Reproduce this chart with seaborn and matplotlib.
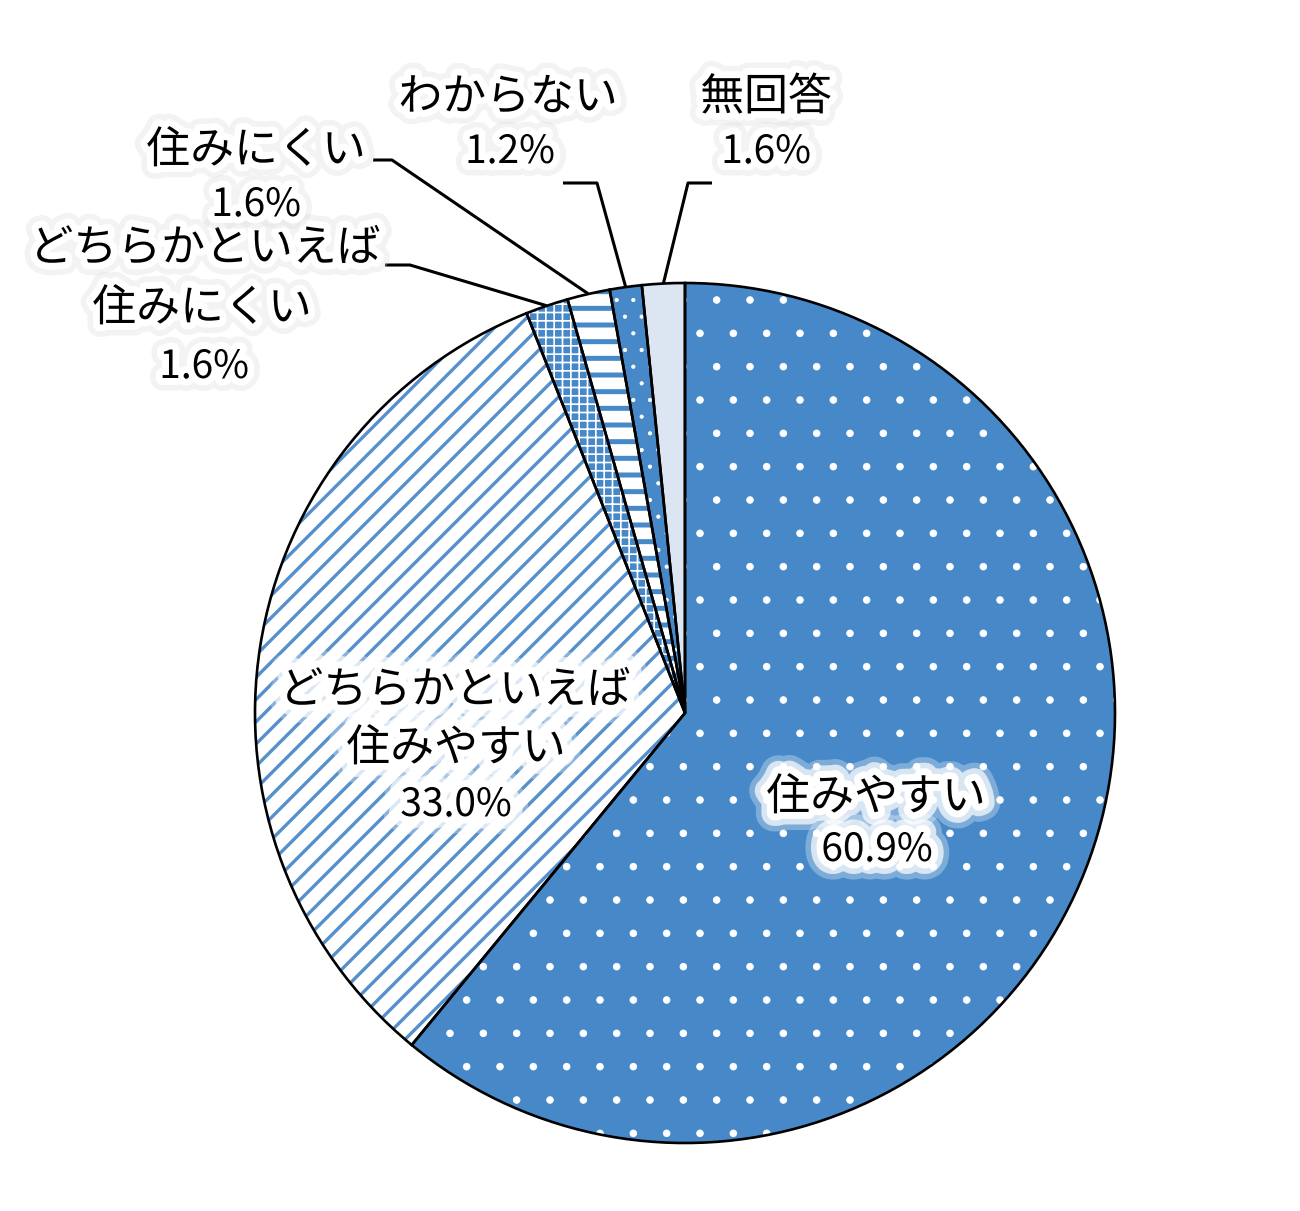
import numpy as np
import matplotlib
matplotlib.use("Agg")
import matplotlib.pyplot as plt
import matplotlib.patheffects as pe
import seaborn as sns

# data
names = ["住みやすい", "どちらかといえば\n住みやすい", "どちらかといえば\n住みにくい",
         "住みにくい", "わからない", "無回答"]
values = [60.9, 33.0, 1.6, 1.6, 1.2, 1.6]
pct_labels = [f"{v:.1f}%" for v in values]

BLUE = "#4789C8"
LIGHT = "#DCE6F2"
# face colour, hatch, hatch colour, hatch linewidth per slice
faces = [BLUE, "white", BLUE, "white", BLUE, LIGHT]
hatches = [".", "///", "++++", "--", "..", None]
hatch_colors = ["white", "#5590CC", "white", BLUE, "white", LIGHT]
hatch_lws = [0.3, 1.2, 0.6, 1.8, 0.3, 0.5]

sns.set_theme(style="white")
plt.rcParams["font.family"] = ["Noto Sans CJK JP", "DejaVu Sans"]
plt.rcParams["text.color"] = "black"

W, H = 1300, 1211
DPI = 200
fig = plt.figure(figsize=(W / DPI, H / DPI), dpi=DPI)
ax = fig.add_axes([0, 0, 1, 1])

cx, cy, R = 685, H - 713, 430

# first pass: fills and hatch (edge colour = hatch colour)
wedges, _ = ax.pie(values, startangle=90, counterclock=False, center=(cx, cy),
                   radius=R, colors=faces, wedgeprops=dict(linewidth=0))
for w, h, hc, hl in zip(wedges, hatches, hatch_colors, hatch_lws):
    w.set_edgecolor(hc)
    w.set_linewidth(0)
    if h:
        w.set_hatch(h)
    if hasattr(w, "set_hatch_linewidth"):
        w.set_hatch_linewidth(hl)

# second pass: black outlines
ax.pie(values, startangle=90, counterclock=False, center=(cx, cy), radius=R,
       colors=["none"] * len(values),
       wedgeprops=dict(edgecolor="black", linewidth=0.95, fill=False))

ax.set_xlim(0, W)
ax.set_ylim(0, H)
ax.set_aspect("equal")
ax.axis("off")

inner_fx = [pe.Stroke(linewidth=13, foreground="white", alpha=0.3),
            pe.Stroke(linewidth=9, foreground="white", alpha=0.7),
            pe.Stroke(linewidth=5, foreground="white"),
            pe.Normal()]
outer_fx = [pe.Stroke(linewidth=9, foreground="#d9d9d9", alpha=0.3),
            pe.Stroke(linewidth=5, foreground="white"),
            pe.Normal()]

JP = 15.8
PC = 14


def put(x, y, s, size, fx):
    ax.text(x, H - y, s, ha="center", va="center", fontsize=size,
            color="black", path_effects=fx, zorder=5)


# inside labels
put(876, 797, "住みやすい", JP, inner_fx)
put(877, 850, pct_labels[0], PC, inner_fx)
put(455, 690, "どちらかといえば", JP, inner_fx)
put(456, 748, "住みやすい", JP, inner_fx)
put(456, 805, pct_labels[1], PC, inner_fx)

# outside labels
put(205, 248, "どちらかといえば", JP, outer_fx)
put(202, 308, "住みにくい", JP, outer_fx)
put(204, 367, pct_labels[2], PC, outer_fx)
put(256, 150, "住みにくい", JP, outer_fx)
put(256, 205, pct_labels[3], PC, outer_fx)
put(508, 97, "わからない", JP, outer_fx)
put(510, 152, pct_labels[4], PC, outer_fx)
put(766, 97, "無回答", JP, outer_fx)
put(766, 152, pct_labels[5], PC, outer_fx)

# leader lines: outer end, elbow (pixels), then to slice edge midpoint
leaders = {2: ((385, 265), (410, 265)),
           3: ((373, 160), (392, 160)),
           4: ((563, 183), (597, 183)),
           5: ((712, 183), (688, 183))}
for i, (p0, p1) in leaders.items():
    w = wedges[i]
    mid = np.deg2rad((w.theta1 + w.theta2) / 2)
    ex, ey = cx + R * np.cos(mid), cy + R * np.sin(mid)
    ax.plot([p0[0], p1[0], ex], [H - p0[1], H - p1[1], ey],
            color="black", linewidth=1.1, solid_capstyle="butt", zorder=4)

fig.savefig("out.png", dpi=DPI, facecolor="white")
